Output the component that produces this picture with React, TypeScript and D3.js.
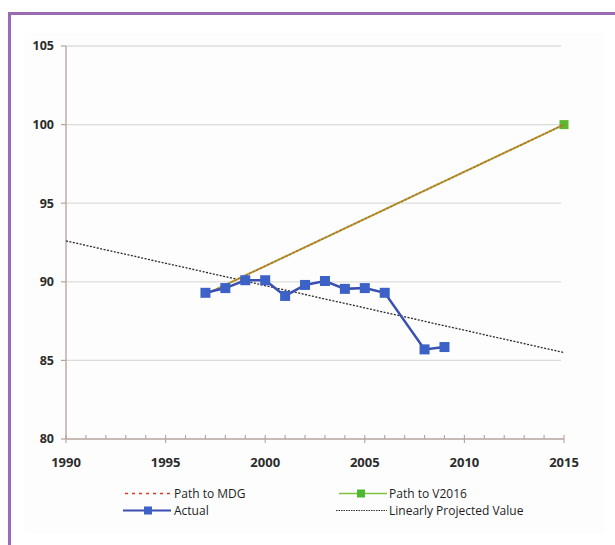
import React, { useEffect } from 'react'
import * as d3 from 'd3'

const W = 615
const H = 545

// data
const actualYears = [1997, 1998, 1999, 2000, 2001, 2002, 2003, 2004, 2005, 2006, 2008, 2009]
const actualValues = [89.3, 89.6, 90.1, 90.1, 89.1, 89.8, 90.05, 89.55, 89.6, 89.3, 85.7, 85.85]
const mdgYears = [1997, 2015]
const mdgValues = [89.2, 100]
const v2016Years = [1997, 2015]
const v2016Values = [89.2, 100]
const projYears = [1990, 2015]
const projValues = [92.6, 85.5]
const yTicks = [80, 85, 90, 95, 100, 105]
const xTicks = [1990, 1995, 2000, 2005, 2010, 2015]

const FONT = "'Open Sans', 'DejaVu Sans', sans-serif"

export default function App() {
  useEffect(() => {
    document.body.style.margin = '0'
  }, [])

  const x = d3.scaleLinear().domain([1990, 2015]).range([66, 564])
  const y = d3.scaleLinear().domain([80, 105]).range([439, 46])

  const line = d3.line<[number, number]>()
    .x((d) => x(d[0]))
    .y((d) => y(d[1]))

  const actual = actualYears.map((yr, i) => [yr, actualValues[i]] as [number, number])
  const mdg = mdgYears.map((yr, i) => [yr, mdgValues[i]] as [number, number])
  const v2016 = v2016Years.map((yr, i) => [yr, v2016Values[i]] as [number, number])
  const proj = projYears.map((yr, i) => [yr, projValues[i]] as [number, number])

  const minorYears = d3.range(1990, 2016)
  const x0 = x(1990)
  const x1 = x(2015)
  const row1 = 493.5
  const row2 = 510.5

  return (
    <svg width={W} height={H} style={{ display: 'block' }}>
      <rect x={0} y={0} width={W} height={H} fill="#ffffff" />
      {/* frame */}
      <rect x={9.5} y={13.5} width={W + 20} height={H + 20} fill="none" stroke="#9b6bb2" strokeWidth={3} />
      <rect x={25} y={33} width={580} height={500} fill="#fdfdfd" />

      {/* gridlines */}
      {yTicks.filter((t) => t !== 80).map((t) => (
        <line key={t} x1={x0} x2={x1 - 3} y1={y(t)} y2={y(t)} stroke="#dcdcdc" strokeWidth={1.3} />
      ))}

      {/* y axis */}
      <line x1={x0} x2={x0} y1={y(105)} y2={y(80)} stroke="#b3a49c" strokeWidth={1.3} />
      {yTicks.map((t) => (
        <g key={t}>
          <line x1={x0 - 5} x2={x0} y1={y(t)} y2={y(t)} stroke="#b3a49c" strokeWidth={1.2} />
          <text x={54} y={y(t)} dy="0.35em" textAnchor="end" fontFamily={FONT} fontSize={12.5} fontWeight={700} fill="#2b2b2b">{t}</text>
        </g>
      ))}

      {/* x axis */}
      <line x1={x0} x2={x1} y1={y(80)} y2={y(80)} stroke="#b3a49c" strokeWidth={1.3} />
      {minorYears.map((yr) => (
        <line key={yr} x1={x(yr)} x2={x(yr)} y1={y(80) - 4} y2={xTicks.includes(yr) ? y(80) + 4 : y(80)} stroke="#b3a49c" strokeWidth={1.1} />
      ))}
      {xTicks.map((t) => (
        <text key={t} x={x(t)} y={462} dy="0.35em" textAnchor="middle" fontFamily={FONT} fontSize={13} fontWeight={700} fill="#2b2b2b">{t}</text>
      ))}

      {/* projected */}
      <path d={line(proj) || ''} fill="none" stroke="#2a2a2a" strokeWidth={1.3} strokeDasharray="2,1.5" />

      {/* path to V2016 */}
      <path d={line(v2016) || ''} fill="none" stroke="#8cc63f" strokeWidth={2} />
      <rect x={x(2015) - 4.5} y={y(100) - 4.5} width={9} height={9} fill="#5cb82e" />

      {/* path to MDG */}
      <path d={line(mdg) || ''} fill="none" stroke="#e0502a" strokeWidth={1.6} strokeDasharray="3,1" opacity={0.8} />

      {/* actual */}
      <path d={line(actual) || ''} fill="none" stroke="#3a4fb0" strokeWidth={2.5} />
      {actual.map((d, i) => (
        <rect key={i} x={x(d[0]) - 5} y={y(d[1]) - 5} width={10} height={10} fill="#3c62c8" />
      ))}

      {/* legend */}
      <g fontFamily={FONT} fontSize={12} fill="#1e1e1e">
        <line x1={125} x2={171} y1={row1} y2={row1} stroke="#e0392b" strokeWidth={1.3} strokeDasharray="3,4" />
        <text x={174} y={row1} dy="0.35em">Path to MDG</text>

        <line x1={123} x2={171} y1={row2} y2={row2} stroke="#3a4fb0" strokeWidth={2} />
        <rect x={144} y={row2 - 4} width={8} height={8} fill="#3c62c8" />
        <text x={174} y={row2} dy="0.35em">Actual</text>

        <line x1={339} x2={387} y1={row1} y2={row1} stroke="#7fc241" strokeWidth={1.5} />
        <rect x={357} y={row1 - 4} width={8} height={8} fill="#4fb832" />
        <text x={389} y={row1} dy="0.35em">Path to V2016</text>

        <line x1={336} x2={387} y1={row2} y2={row2} stroke="#333" strokeWidth={1.2} strokeDasharray="1.5,1" />
        <text x={389} y={row2} dy="0.35em">Linearly Projected Value</text>
      </g>
    </svg>
  )
}
